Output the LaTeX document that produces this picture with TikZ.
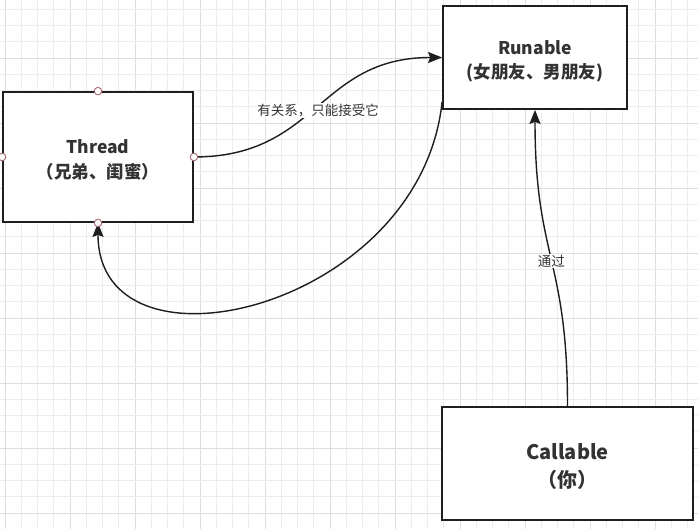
\documentclass[tikz,border=0pt]{standalone}
\usepackage{fontspec}
\setmainfont{Noto Sans CJK SC}
\newfontfamily\cjk{Noto Sans CJK SC}
\usetikzlibrary{arrows.meta}
\definecolor{gridminor}{HTML}{EDEDED}
\definecolor{gridmajor}{HTML}{DEDEDE}
\definecolor{boxline}{HTML}{1E1E1E}
\definecolor{txt}{HTML}{333333}
\definecolor{portc}{HTML}{A8646E}
\tikzset{
  box/.style={draw=boxline, line width=1.8pt, fill=white, inner sep=0pt},
  title/.style={align=center, text=txt, inner sep=0pt},
  conn/.style={draw=boxline, line width=1.4pt, -{Stealth[length=14pt,width=11pt,inset=2pt]}},
  elabel/.style={fill=white, text=txt, font=\cjk\fontsize{13.5}{15}\selectfont, inner sep=1pt},
  port/.style={circle, draw=portc, fill=white, line width=0.9pt, minimum size=7.5pt, inner sep=0pt},
}
\begin{document}
\begin{tikzpicture}[x=1pt,y=-1pt]
\useasboundingbox (0,0) rectangle (698,529);
\fill[white] (0,0) rectangle (698,529);
% grid
\foreach \i in {0,...,43} {
  \pgfmathsetmacro{\xx}{5+16.25*\i}
  \pgfmathtruncatemacro{\m}{mod(\i,4)}
  \ifnum\m=0
    \draw[gridmajor, line width=0.9pt] (\xx,0) -- (\xx,529);
  \else
    \draw[gridminor, line width=0.7pt] (\xx,0) -- (\xx,529);
  \fi
}
\foreach \i in {0,...,32} {
  \pgfmathsetmacro{\yy}{9.25+16.25*\i}
  \pgfmathtruncatemacro{\m}{mod(\i,4)}
  \ifnum\m=3
    \draw[gridmajor, line width=0.9pt] (0,\yy) -- (698,\yy);
  \else
    \draw[gridminor, line width=0.7pt] (0,\yy) -- (698,\yy);
  \fi
}
% boxes
\node[box, minimum width=190pt, minimum height=130pt] (thread) at (98,157) {};
\node[title, font=\fontsize{17.5}{25}\selectfont\bfseries] (threadtxt) at ([yshift=-3pt]thread.center)
  {Thread\\（兄弟、闺蜜）};
\node[box, minimum width=184pt, minimum height=103pt] (runable) at (535,57.5) {};
\node[title, font=\fontsize{17.5}{24}\selectfont\bfseries] (runabletxt) at ([yshift=-4pt]runable.center)
  {Runable\\(女朋友、男朋友)};
\node[box, minimum width=251pt, minimum height=113pt] (callable) at (567.5,463.5) {};
\node[title, font=\fontsize{20}{28}\selectfont\bfseries] (callabletxt) at ([yshift=-3pt]callable.center)
  {Callable\\（你）};
% connectors
\draw[conn] (thread.east) .. controls (318,157) and (318,57.5) .. (runable.west)
  node[elabel, pos=0.5, yshift=-3pt] (l1) {有关系，只能接受它};
\coordinate (rs) at ([yshift=8pt]runable.south west);
\draw[conn] (rs) .. controls (420,310) and (98,385) .. (thread.south);
\draw[conn] (callable.north) .. controls (567.5,258) and (535,258) .. (runable.south)
  node[elabel, pos=0.5, yshift=-3pt] (l2) {通过};
% ports on Thread
\node[port] (pn) at (thread.north) {};
\node[port] (pw) at (thread.west) {};
\node[port] (pe) at (thread.east) {};
\node[port] (ps) at (thread.south) {};
\end{tikzpicture}
\end{document}
